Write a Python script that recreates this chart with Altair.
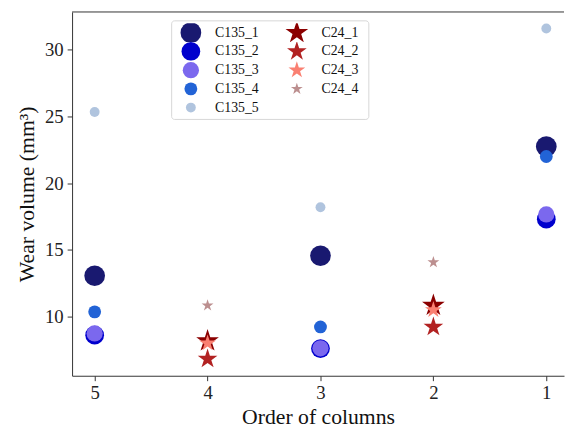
import altair as alt
import pandas as pd

# ---- data ----
c135_x = [5, 3, 1]
c135_names = ["C135_1", "C135_2", "C135_3", "C135_4", "C135_5"]
c135_vals = {
    "C135_1": [13.06, 14.56, 22.75],
    "C135_2": [8.60, 7.60, 17.30],
    "C135_3": [8.73, 7.62, 17.66],
    "C135_4": [10.35, 9.22, 22.00],
    "C135_5": [25.34, 18.20, 31.60],
}
c24_x = [4, 2]
c24_names = ["C24_1", "C24_2", "C24_3", "C24_4"]
c24_vals = {
    "C24_1": [8.17, 10.83],
    "C24_2": [6.82, 9.22],
    "C24_3": [8.00, 10.50],
    "C24_4": [10.83, 14.07],
}

# ---- styles ----
c135_colors = ["#191970", "#0000CD", "#7B68EE", "#2263D6", "#B0C4DE"]
c135_sizes = [441, 361, 272, 169, 100]
c24_colors = ["#8B0000", "#B22222", "#FA8072", "#BC8F8F"]
c24_sizes = [585, 440, 320, 160]
STAR = ("M0,-1L0.2245,-0.309L0.9511,-0.309L0.3633,0.118L0.5878,0.809L0,0.382"
        "L-0.5878,0.809L-0.3633,0.118L-0.9511,-0.309L-0.2245,-0.309Z")

rows135 = [{"x": x, "y": v, "s": n} for n in c135_names for x, v in zip(c135_x, c135_vals[n])]
rows24 = [{"x": x, "y": v, "t": n} for n in c24_names for x, v in zip(c24_x, c24_vals[n])]
df135 = pd.DataFrame(rows135)
df24 = pd.DataFrame(rows24)

FONT = "Liberation Serif"
xscale = alt.Scale(domain=[0.843, 5.2], reverse=True, nice=False, zero=False)
yscale = alt.Scale(domain=[5.56, 32.84], nice=False, zero=False)

axis_common = dict(
    grid=False, domainColor="#333333", tickColor="#333333", tickSize=5,
    labelFont=FONT, labelFontSize=19, labelColor="#222222",
    titleFont=FONT, titleFontSize=22, titleFontWeight="normal", titleColor="#111111",
)
xaxis = alt.Axis(values=[1, 2, 3, 4, 5], format="d", title="Order of columns",
                 labelPadding=3, titlePadding=4, **axis_common)
yaxis = alt.Axis(values=[10, 15, 20, 25, 30], title="Wear volume (mm³)",
                 labelPadding=4, titlePadding=6, **axis_common)

legend_common = dict(
    orient="none", title=None, labelFont=FONT, labelFontSize=14, labelColor="#111111",
    padding=0, rowPadding=0, clipHeight=19,
)
leg1 = alt.Legend(legendX=109, legendY=11.5, labelOffset=13, **legend_common)
leg2 = alt.Legend(legendX=215, legendY=11.5, labelOffset=12, **legend_common)

frame = alt.Chart(pd.DataFrame({"a": [0]})).mark_rect(
    fill="white", stroke="#d6d6d6", strokeWidth=1, cornerRadius=3
).encode(x=alt.value(101), x2=alt.value(301), y=alt.value(9), y2=alt.value(109))

topline = alt.Chart(pd.DataFrame({"a": [0]})).mark_rule(color="#333333", strokeWidth=1).encode(
    x=alt.value(0), x2=alt.value(499), y=alt.value(0)
)

circles = alt.Chart(df135).mark_point(filled=True, opacity=1, shape="circle").encode(
    x=alt.X("x:Q", scale=xscale, axis=xaxis),
    y=alt.Y("y:Q", scale=yscale, axis=yaxis),
    color=alt.Color("s:N", scale=alt.Scale(domain=c135_names, range=c135_colors), legend=leg1),
    size=alt.Size("s:N", scale=alt.Scale(type="ordinal", domain=c135_names, range=c135_sizes),
                  legend=leg1),
)

stars = alt.Chart(df24).mark_point(filled=True, opacity=1, shape=STAR).encode(
    x=alt.X("x:Q", scale=xscale, axis=xaxis),
    y=alt.Y("y:Q", scale=yscale, axis=yaxis),
    color=alt.Color("t:N", scale=alt.Scale(domain=c24_names, range=c24_colors), legend=leg2),
    size=alt.Size("t:N", scale=alt.Scale(type="ordinal", domain=c24_names, range=c24_sizes),
                  legend=leg2),
)

chart = alt.layer(frame, topline, circles, stars).resolve_scale(
    color="independent", size="independent"
).properties(
    width=499, height=369, padding={"left": 8, "top": 0, "right": 0, "bottom": 0},
    background="white",
).configure_view(stroke=None)

chart.save("out.html", embed_options={"renderer": "svg", "actions": False})
